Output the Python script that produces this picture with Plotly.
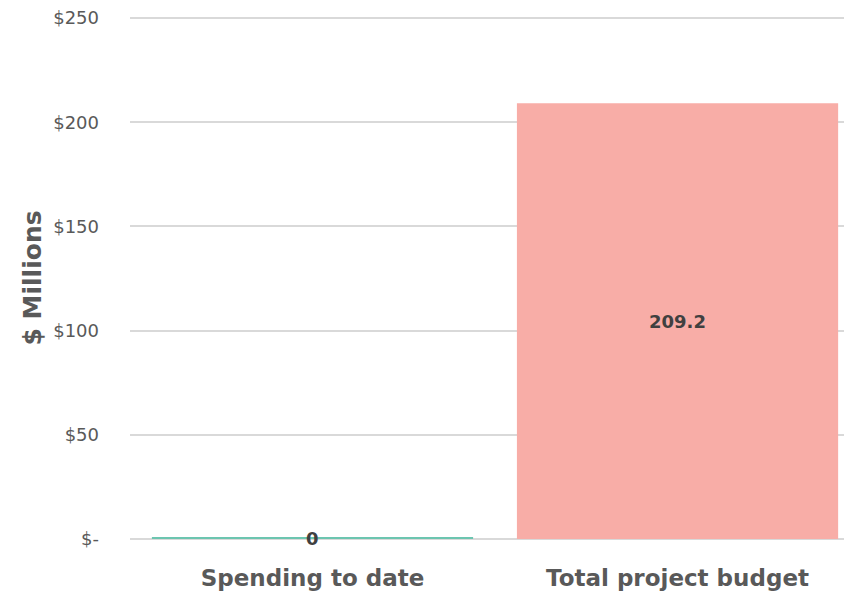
import plotly.graph_objects as go

categories = ["Spending to date", "Total project budget"]
values = [0.6, 209.2]
labels = ["0", "209.2"]
colors = ["#6CC5B0", "#F8ADA7"]
y_ticks = [0, 50, 100, 150, 200, 250]
y_tick_text = ["$-", "$50", "$100", "$150", "$200", "$250"]

fig = go.Figure()
fig.add_trace(go.Bar(
    x=categories, y=values, marker=dict(color=colors, line=dict(width=0)),
    width=0.88, hoverinfo="skip",
))
for c, v, t in zip(categories, values, labels):
    fig.add_annotation(x=c, y=v / 2, text=f"<b>{t}</b>", showarrow=False,
                       font=dict(family="DejaVu Sans", size=18, color="#404040"))

fig.update_layout(
    width=844, height=589,
    margin=dict(l=122, r=0, t=6, b=55, autoexpand=False),
    paper_bgcolor="white", plot_bgcolor="white",
    showlegend=False,
    xaxis=dict(range=[-0.5, 1.478], showgrid=False, showline=False, zeroline=False,
               tickfont=dict(family="DejaVu Sans", size=23, color="#595959", weight="bold"),
               ticks="", ticklabelstandoff=20),
    yaxis=dict(range=[-1.5, 252], tickvals=y_ticks, ticktext=y_tick_text,
               showgrid=True, gridcolor="#D9D9D9", gridwidth=2, zeroline=False,
               tickfont=dict(family="DejaVu Sans", size=18, color="#595959"),
               ticks="", ticklabelstandoff=30, ticklabeloverflow="allow",
               title=dict(text="<b>$ Millions</b>", standoff=4,
                          font=dict(family="DejaVu Sans", size=25, color="#595959"))),
)
fig.write_html("out.html")
